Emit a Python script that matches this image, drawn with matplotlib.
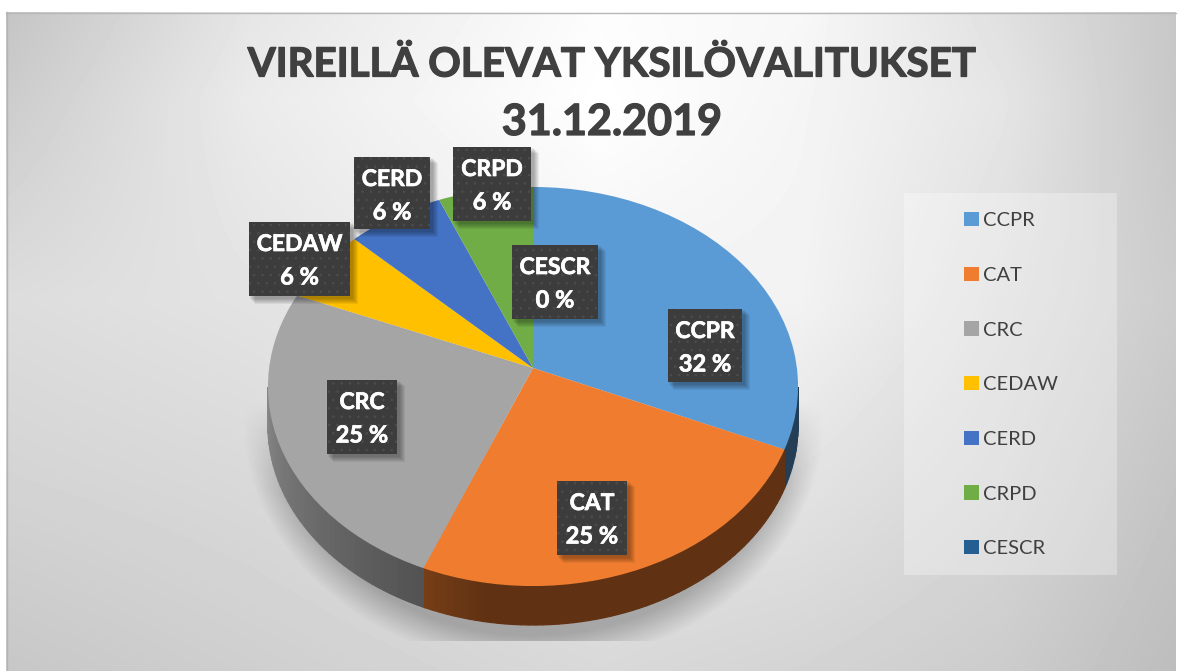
import matplotlib
matplotlib.use("Agg")
import matplotlib.pyplot as plt
import matplotlib.patheffects as pe
import numpy as np
from matplotlib.patches import Rectangle
from matplotlib.transforms import Transform

plt.rcParams['font.family'] = ['Lato', 'DejaVu Sans']
plt.rcParams['hatch.linewidth'] = 0.6

# data
names = ["CCPR", "CAT", "CRC", "CEDAW", "CERD", "CRPD", "CESCR"]
shares = [31.5, 24.7, 25.0, 6.0, 6.49, 6.31, 0.0]
slice_colors = ["#5B9BD5", "#F07D2F", "#A5A5A5", "#FFC000", "#4472C4", "#70AD47", "#255E91"]
title_lines = ["VIREILLÄ OLEVAT YKSILÖVALITUKSET", "31.12.2019"]
# label boxes in pixels: left, top, right, bottom
label_boxes = [(668, 309, 742, 382), (557, 481, 627, 555), (327, 380, 397, 454),
               (249, 222, 350, 296), (354, 157, 430, 229), (453, 147, 531, 221),
               (512, 245, 598, 319)]

# grey levels of the slide background, sampled on a coarse grid
bg_x = [6, 250, 600, 800, 1000, 1176]
bg_y = [12, 100, 300, 480, 671]
bg_levels = [[.77, .90, .99, .97, .88, .78],
             [.80, .92, 1.0, .96, .90, .78],
             [.865, .89, .95, .95, .87, .80],
             [.83, .85, .90, .89, .84, .77],
             [.78, .81, .85, .83, .80, .74]]

W, H = 1182, 671
APEX_X, APEX_Y = 533, 368
RX, RY, TILT = 263.9, 197.8, 0.0927
DEPTH = 39


class Tilt(Transform):
    # perspective view of the unit circle, result in image pixels
    input_dims = 2
    output_dims = 2
    is_separable = False

    def transform_non_affine(self, values):
        values = np.asarray(values, dtype=float)
        d = 1 + TILT * values[:, 1]
        return np.column_stack((APEX_X + RX * values[:, 0] / d, APEX_Y - RY * values[:, 1] / d))


def wall_shade(a):
    return np.interp(a, [0, 190, 203, 275, 360], [0.40, 0.40, 0.50, 0.87, 0.87])


def hex_rgb(c):
    return np.array(matplotlib.colors.to_rgb(c))


fig = plt.figure(figsize=(W / 100, H / 100), dpi=100, facecolor="white")
ax = fig.add_axes([0, 0, 1, 1])

wedges, _ = ax.pie(shares, colors=slice_colors, startangle=90, counterclock=False)
ax.set_aspect("auto")

# background
px_x = np.arange(6, 1176)
px_y = np.arange(12, H)
rows = np.array([np.interp(px_x, bg_x, r) for r in bg_levels])
bg = np.array([np.interp(px_y, bg_y, rows[:, j]) for j in range(len(px_x))]).T
ax.imshow(bg, extent=(6, 1176, H, 12), cmap="gray", vmin=0, vmax=1, aspect="auto",
          interpolation="bilinear", zorder=0)
ax.plot([6, 1176], [12.5, 12.5], color="#b8b8b8", lw=1, zorder=1)
ax.plot([6.5, 6.5], [12, H], color="#b4b4b4", lw=1, zorder=1)

# soft shadow under the pie, cut off flat at the bottom
yy, xx = np.mgrid[380:641, 230:840]
e = np.hypot((xx - 533) / 292, (yy - 415) / 250)
sh = np.clip((1.0 - e) / 0.12, 0, 1) * np.clip((yy - 400) / 90, 0, 1)
rgba = np.zeros(sh.shape + (4,))
rgba[..., 3] = 0.24 * sh
ax.imshow(rgba, extent=(230, 840, 641, 380), aspect="auto", zorder=1.5)

# side wall of the pie, only the part facing the viewer
tilt = Tilt()
edges = np.concatenate(([0], np.cumsum(shares))) / np.sum(shares) * 360
for i, c in enumerate(slice_colors):
    a_start = max(edges[i], 95.5)
    a_end = min(edges[i + 1], 264.5)
    if a_end <= a_start:
        continue
    steps = np.append(np.arange(a_start, a_end, 1.5), a_end)
    for a0, a1 in zip(steps[:-1], steps[1:]):
        pts = tilt.transform_non_affine(np.column_stack((np.sin(np.radians([a0, a1])),
                                                         np.cos(np.radians([a0, a1])))))
        col = hex_rgb(c) * wall_shade((a0 + a1) / 2)
        ax.fill([pts[0, 0], pts[1, 0], pts[1, 0], pts[0, 0]],
                [pts[0, 1], pts[1, 1], pts[1, 1] + DEPTH, pts[0, 1] + DEPTH],
                color=col, lw=0.9, zorder=2)

# top face
for w in wedges:
    w.set_transform(tilt + ax.transData)
    w.set_zorder(3)
    w.set_clip_on(False)

# data labels
thick_white = [pe.withStroke(linewidth=0.5, foreground="white")]
for name, share, box in zip(names, shares, label_boxes):
    x0, y0, x1, y1 = box
    for k in range(1, 7):
        ax.add_patch(Rectangle((x0 + k, y0 + k), x1 - x0 + 2, y1 - y0 + 2, fc="black", ec="none",
                               alpha=0.06, zorder=4))
    ax.add_patch(Rectangle((x0, y0), x1 - x0, y1 - y0, fc="#3c3c3c", ec="#4c4c4c", hatch="..",
                           lw=0, zorder=5))
    ax.text((x0 + x1) / 2, y0 + 22.5, name, color="white", fontsize=16.5, fontweight="bold",
            ha="center", va="center", zorder=6, path_effects=thick_white)
    ax.text((x0 + x1) / 2, y0 + 55, "%d %%" % round(share), color="white", fontsize=17,
            fontweight="bold", ha="center", va="center", zorder=6, path_effects=thick_white)

# title
thick_dark = [pe.withStroke(linewidth=0.9, foreground="#404040")]
ax.text(612, 65, title_lines[0], color="#404040", fontsize=29, fontweight="bold",
        ha="center", va="center", zorder=6, path_effects=thick_dark)
ax.text(612, 122, title_lines[1], color="#404040", fontsize=31, fontweight="bold",
        ha="center", va="center", zorder=6, path_effects=thick_dark)

# legend
ax.add_patch(Rectangle((904, 193), 213, 382, fc="white", alpha=0.3, ec="none", zorder=2))
ax.legend(wedges, names, loc="upper left", bbox_to_anchor=(964 / W, 1 - 212 / H), frameon=False,
          fontsize=14.5, labelcolor="#404040", handlelength=0.72, handleheight=0.72,
          handletextpad=0.22, labelspacing=1.86, borderpad=0, borderaxespad=0)

ax.set_xlim(0, W)
ax.set_ylim(H, 0)
ax.axis("off")
fig.savefig("out.png", dpi=100)
